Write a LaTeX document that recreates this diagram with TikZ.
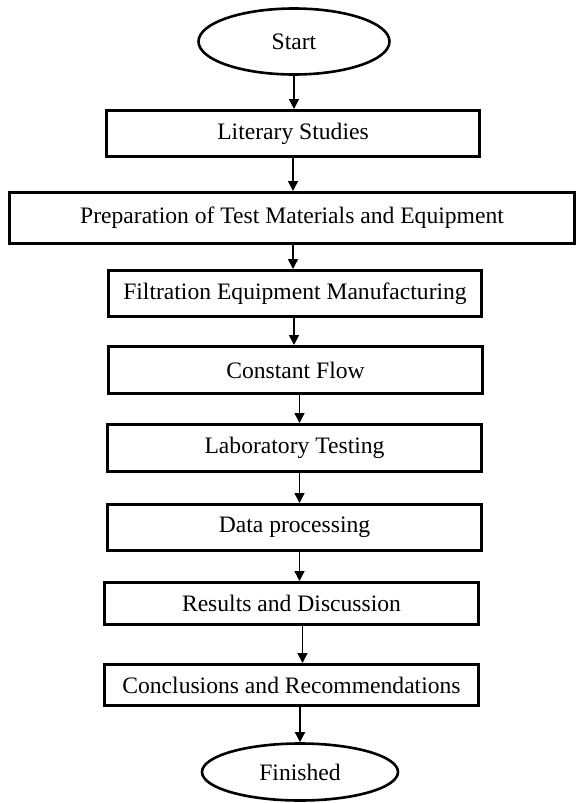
\documentclass[tikz,border=0pt]{standalone}
\usepackage{fontspec}
\setmainfont{Liberation Serif}
\usetikzlibrary{shapes.geometric,arrows.meta}

\tikzset{
  procbox/.style={draw=black, fill=white, line width=3pt, rectangle,
    inner sep=0pt, font=\fontsize{23.6}{27}\selectfont},
  termshape/.style={draw=black, fill=white, line width=2.6pt, ellipse,
    inner sep=0pt, font=\fontsize{23.6}{27}\selectfont},
  flowarrow/.style={draw=black, line width=1.5pt,
    -{Triangle[length=10pt,width=10pt]}}
}

\begin{document}
\begin{tikzpicture}[x=1pt, y=-1pt]
\useasboundingbox (0,0) rectangle (580,803);
% start and end
\node[termshape, minimum width=191pt, minimum height=66pt] (start) at (294,41.5) {Start};
\node[termshape, minimum width=196pt, minimum height=57pt] (finished) at (300,772) {Finished};
% steps
\node[procbox, minimum width=373pt, minimum height=46pt] (literary) at (293,133.5) {Literary Studies};
\node[procbox, minimum width=565pt, minimum height=51pt] (prep) at (292,218) {Preparation of Test Materials and Equipment};
\node[procbox, minimum width=373pt, minimum height=46pt] (filtration) at (295,293.5) {Filtration Equipment Manufacturing};
\node[procbox, minimum width=374pt, minimum height=47pt] (constflow) at (295.5,370) {Constant Flow};
\node[procbox, minimum width=374pt, minimum height=47pt] (labtest) at (294.5,448) {Laboratory Testing};
\node[procbox, minimum width=374pt, minimum height=46pt] (dataproc) at (294.5,527.5) {Data processing};
\node[procbox, minimum width=374pt, minimum height=42pt] (results) at (291.5,603.5) {Results and Discussion};
\node[procbox, minimum width=374pt, minimum height=41pt] (concl) at (291.5,685) {Conclusions and Recommendations};
% arrows
\draw[flowarrow] (start.south) -- (start.south |- literary.north);
\draw[flowarrow] (literary.south) -- (literary.south |- prep.north);
\draw[flowarrow] (literary.south |- prep.south) -- (literary.south |- filtration.north);
\draw[flowarrow] ([xshift=-1pt]filtration.south) -- ([xshift=-1pt]filtration.south |- constflow.north);
\draw[flowarrow] ([xshift=4pt]constflow.south) -- ([xshift=4pt]constflow.south |- labtest.north);
\draw[flowarrow] ([xshift=5pt]labtest.south) -- ([xshift=5pt]labtest.south |- dataproc.north);
\draw[flowarrow] ([xshift=5pt]dataproc.south) -- ([xshift=5pt]dataproc.south |- results.north);
\draw[flowarrow] ([xshift=11pt]results.south) -- ([xshift=11pt]results.south |- concl.north);
\draw[flowarrow] (finished.north |- concl.south) -- (finished.north);
\end{tikzpicture}
\end{document}
